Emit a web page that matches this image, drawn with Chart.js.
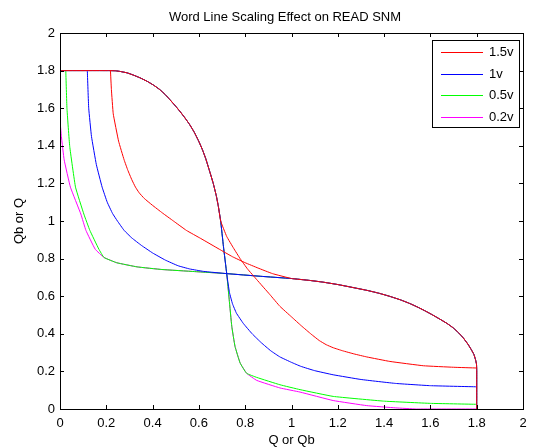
<!DOCTYPE html>
<html>
<head>
<meta charset="utf-8">
<script src="https://cdn.jsdelivr.net/npm/chart.js@4/dist/chart.umd.min.js"></script>
<style>
  html, body { margin: 0; padding: 0; background: #fff; }
</style>
</head>
<body>
<canvas id="snm" width="534" height="448"></canvas>
<script>
// word line voltages, in legend order
const wlLabels = ['1.5v', '1v', '0.5v', '0.2v'];
const wlColors = ['#ff0000', '#0000ff', '#00ff00', '#ff00ff'];

// read VTC (Q in -> Qb out), upper part is the same for every WL voltage
const sharedQ  = [0, 0.21, 0.24, 0.262, 0.29, 0.315, 0.345, 0.378, 0.405, 0.431, 0.455, 0.475, 0.5, 0.52, 0.54, 0.56, 0.58, 0.599, 0.615, 0.63, 0.645, 0.662, 0.675, 0.684, 0.694];
const sharedQb = [1.8, 1.8, 1.799, 1.795, 1.788, 1.777, 1.762, 1.742, 1.722, 1.699, 1.672, 1.645, 1.61, 1.58, 1.548, 1.513, 1.472, 1.425, 1.38, 1.33, 1.27, 1.2, 1.135, 1.078, 1.0];

// lower part of the VTC for each WL voltage
const q15  = [0.72, 0.75, 0.778, 0.81, 0.85, 0.907, 0.95, 1.0, 1.043, 1.085, 1.12, 1.15, 1.18, 1.22, 1.27, 1.325, 1.425, 1.57, 1.7, 1.8];
const qb15 = [0.918, 0.855, 0.8, 0.745, 0.688, 0.608, 0.546, 0.49, 0.442, 0.398, 0.364, 0.342, 0.326, 0.31, 0.293, 0.277, 0.253, 0.23, 0.222, 0.218];

const q10  = [0.706, 0.72, 0.732, 0.745, 0.762, 0.792, 0.83, 0.87, 0.91, 0.95, 1.0, 1.04, 1.1, 1.18, 1.3, 1.45, 1.6, 1.8];
const qb10 = [0.865, 0.72, 0.62, 0.56, 0.51, 0.455, 0.4, 0.352, 0.31, 0.277, 0.248, 0.227, 0.204, 0.182, 0.157, 0.136, 0.124, 0.118];

const q05  = [0.706, 0.72, 0.731, 0.742, 0.756, 0.778, 0.806, 0.85, 0.95, 1.037, 1.18, 1.397, 1.6, 1.8];
const qb05 = [0.865, 0.723, 0.581, 0.44, 0.333, 0.245, 0.19, 0.168, 0.129, 0.103, 0.067, 0.042, 0.03, 0.025];

const q02  = [0.706, 0.72, 0.731, 0.742, 0.756, 0.778, 0.806, 0.85, 0.95, 1.037, 1.18, 1.325, 1.45, 1.54, 1.8];
const qb02 = [0.865, 0.723, 0.581, 0.44, 0.333, 0.245, 0.19, 0.152, 0.112, 0.09, 0.045, 0.018, 0.006, 0, 0];

const xTicks = [0, 0.2, 0.4, 0.6, 0.8, 1, 1.2, 1.4, 1.6, 1.8, 2];
const yTicks = [0, 0.2, 0.4, 0.6, 0.8, 1, 1.2, 1.4, 1.6, 1.8, 2];

const titleText = 'Word Line Scaling Effect on READ SNM';
const FONT = "'Liberation Sans', Arial, sans-serif";

// full curve = shared part + voltage part
function vtc(lowQ, lowQb) {
    const qs = sharedQ.concat(lowQ);
    const qbs = sharedQb.concat(lowQb);
    return qs.map((q, i) => ({ x: q, y: qbs[i] }));
}

const lowParts = [[q15, qb15], [q10, qb10], [q05, qb05], [q02, qb02]];
const datasets = [];
lowParts.forEach((p, i) => {
    const pts = vtc(p[0], p[1]);
    // Qb vs Q
    datasets.push({ label: wlLabels[i], data: pts, borderColor: wlColors[i] });
    // the other inverter: same curve with the axes swapped
    datasets.push({ label: wlLabels[i] + ' mirror', data: pts.map(pt => ({ x: pt.y, y: pt.x })), borderColor: wlColors[i] });
});
datasets.forEach(d => {
    d.showLine = true;
    d.pointRadius = 0;
    d.borderWidth = 1;
    d.tension = 0.1;
    d.fill = false;
});

function fmtTick(v) {
    return String(Math.round(v * 10) / 10);
}

// box round the axes, inward ticks, title and legend, like the MATLAB figure
const matlabLook = {
    id: 'matlabLook',
    afterDraw(chart) {
        const { ctx, chartArea: a, scales: { x, y } } = chart;
        ctx.save();
        ctx.strokeStyle = '#000';
        ctx.lineWidth = 1;
        ctx.strokeRect(a.left + 0.5, a.top + 0.5, a.right - a.left, a.bottom - a.top);
        const tl = 4;
        ctx.beginPath();
        xTicks.forEach(v => {
            const px = Math.round(x.getPixelForValue(v)) + 0.5;
            ctx.moveTo(px, a.bottom); ctx.lineTo(px, a.bottom - tl);
            ctx.moveTo(px, a.top); ctx.lineTo(px, a.top + tl);
        });
        yTicks.forEach(v => {
            const py = Math.round(y.getPixelForValue(v)) + 0.5;
            ctx.moveTo(a.left, py); ctx.lineTo(a.left + tl, py);
            ctx.moveTo(a.right, py); ctx.lineTo(a.right - tl, py);
        });
        ctx.stroke();

        ctx.font = '13px ' + FONT;
        ctx.fillStyle = '#000';
        ctx.textAlign = 'center';
        ctx.textBaseline = 'middle';
        ctx.fillText(titleText, 285, 17);

        // legend box
        const lx = 432, ly = 40, lw = 87, lh = 87;
        ctx.fillStyle = '#fff';
        ctx.fillRect(lx, ly, lw, lh);
        ctx.strokeStyle = '#000';
        ctx.strokeRect(lx + 0.5, ly + 0.5, lw, lh);
        ctx.textAlign = 'left';
        wlLabels.forEach((lab, i) => {
            const ry = Math.round(ly + 12 + i * 21.5);
            ctx.fillStyle = wlColors[i];
            ctx.fillRect(lx + 9, ry, 42, 1);
            ctx.fillStyle = '#000';
            ctx.fillText(lab, lx + 57, ry + 0.5);
        });
        ctx.restore();
    }
};

new Chart(document.getElementById('snm'), {
    type: 'scatter',
    data: { datasets: datasets },
    options: {
        responsive: false,
        animation: false,
        devicePixelRatio: 1,
        layout: { padding: { left: 0, right: 11, top: 33, bottom: 0 } },
        plugins: {
            legend: { display: false },
            tooltip: { enabled: false }
        },
        scales: {
            x: {
                type: 'linear',
                min: 0, max: 2,
                afterBuildTicks: s => { s.ticks = xTicks.map(v => ({ value: v })); },
                afterFit: s => { s.height = 39; },
                grid: { display: false, drawTicks: false },
                border: { display: true, color: '#000' },
                ticks: { color: '#000', font: { family: FONT, size: 13 }, padding: 7, maxRotation: 0, callback: fmtTick },
                title: { display: true, text: 'Q or Qb', color: '#000', font: { family: FONT, size: 13 }, padding: { top: 2, bottom: 0 } }
            },
            y: {
                type: 'linear',
                min: 0, max: 2,
                afterBuildTicks: s => { s.ticks = yTicks.map(v => ({ value: v })); },
                afterFit: s => { s.width = 60; },
                grid: { display: false, drawTicks: false },
                border: { display: true, color: '#000' },
                ticks: { color: '#000', font: { family: FONT, size: 13 }, padding: 5, callback: fmtTick },
                title: { display: true, text: 'Qb or Q', color: '#000', font: { family: FONT, size: 13 }, padding: { top: 12, bottom: 0 } }
            }
        }
    },
    plugins: [matlabLook]
});
</script>
</body>
</html>
